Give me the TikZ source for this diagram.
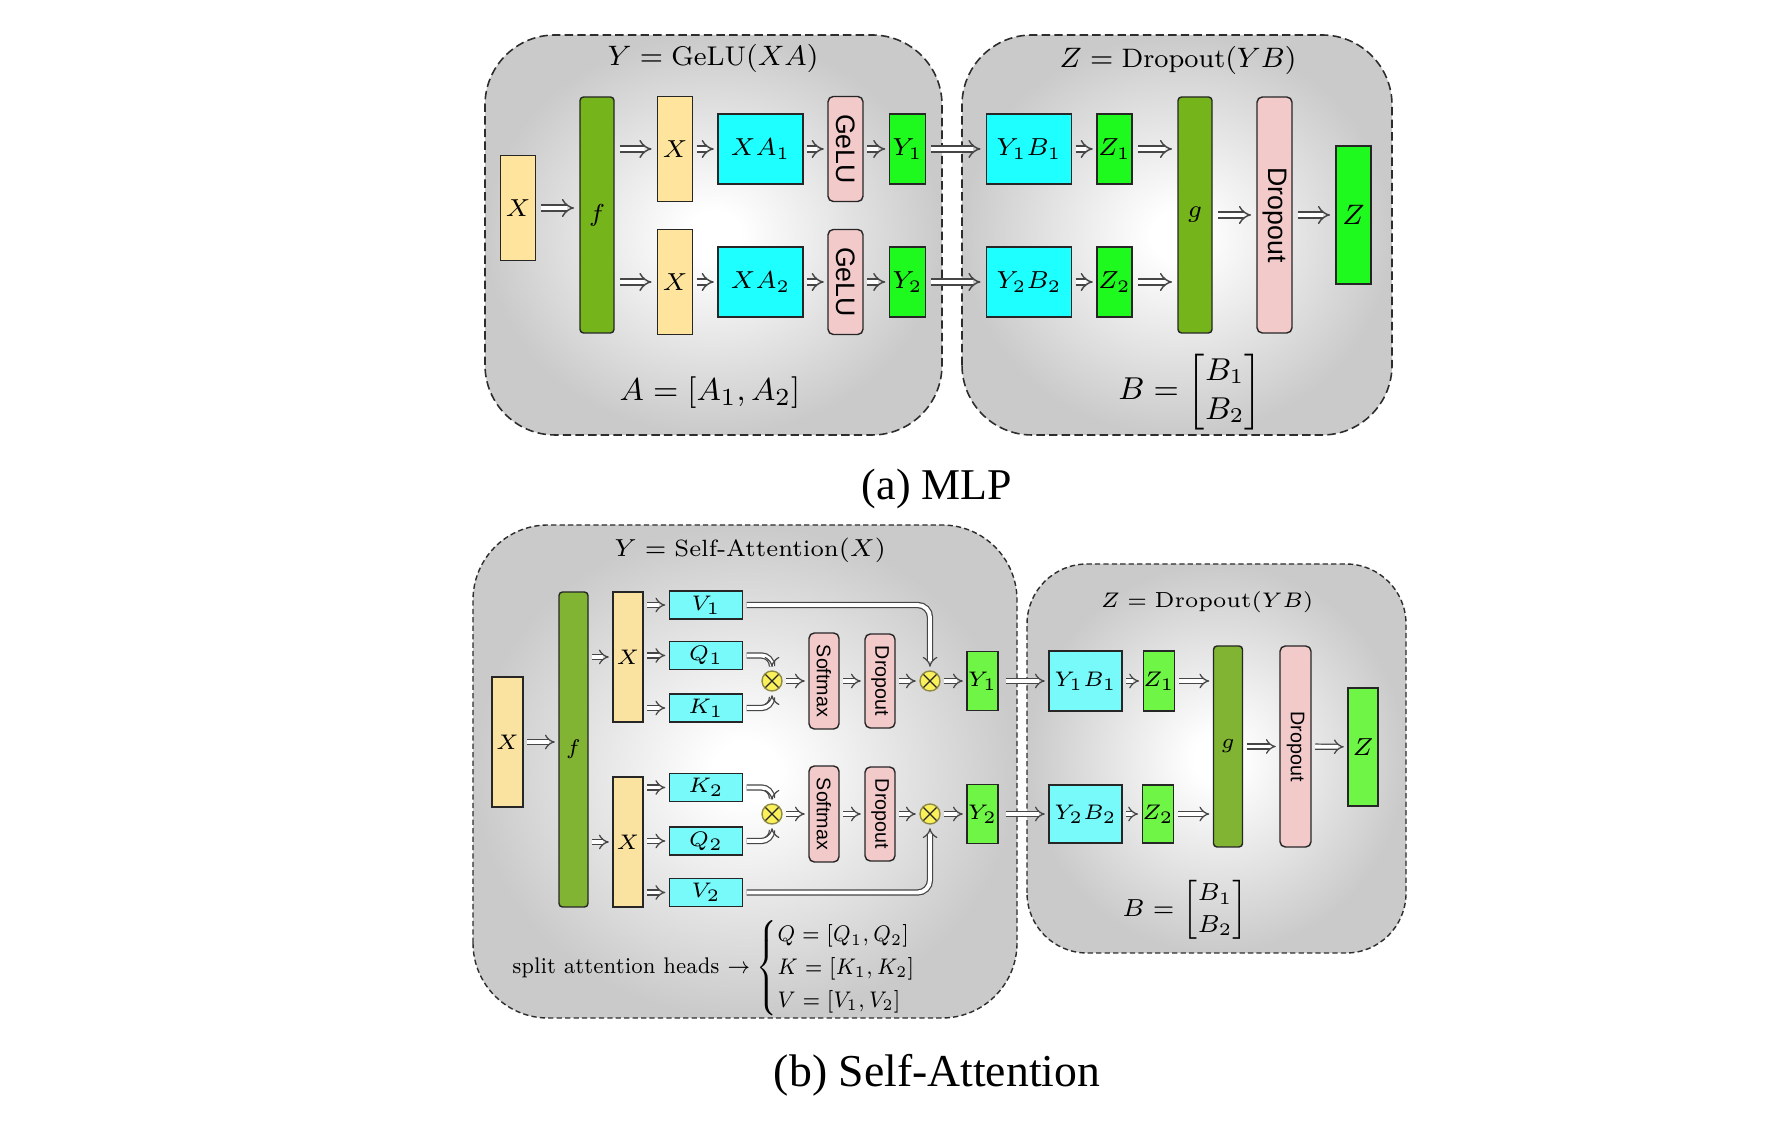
\documentclass[tikz,border=0pt]{standalone}
\usepackage{fontspec}
\usepackage{amsmath}
\usetikzlibrary{arrows.meta}
\newfontfamily\capfont{Liberation Serif}
\newfontfamily\boxsans{Liberation Sans}

\definecolor{xyel}{RGB}{255,228,158}
\definecolor{fgreen}{RGB}{118,180,28}
\definecolor{mcyan}{RGB}{30,255,255}
\definecolor{apink}{RGB}{242,202,202}
\definecolor{ygreen}{RGB}{30,250,30}
\definecolor{sxyel}{RGB}{250,226,160}
\definecolor{sfgreen}{RGB}{128,180,50}
\definecolor{scyan}{RGB}{120,250,250}
\definecolor{sygreen}{RGB}{110,245,70}
\definecolor{mulyel}{RGB}{250,240,90}
\definecolor{panelgray}{RGB}{202,202,202}

\pgfdeclareradialshading{panelshade}{\pgfpoint{0bp}{0bp}}{color(0bp)=(white); color(3bp)=(white); color(25bp)=(panelgray); color(50bp)=(panelgray)}

\tikzset{
    panel/.style={draw=gray!35!black, line width=0.45pt, dash pattern=on 2.4pt off 1.2pt,
        rounded corners=0.7cm, shading=panelshade},
    spanel/.style={panel, line width=0.4pt, dash pattern=on 1.5pt off 0.9pt},
    blk/.style={draw=gray!30!black, line width=0.4pt, inner sep=0pt},
    % MLP boxes
    xbox/.style={blk, fill=xyel, minimum width=0.35cm, minimum height=1.05cm},
    fbar/.style={blk, fill=fgreen, rounded corners=1pt, minimum width=0.34cm, minimum height=2.36cm},
    mulbox/.style={blk, fill=mcyan, minimum width=0.85cm, minimum height=0.70cm},
    actbox/.style={blk, fill=apink, rounded corners=1.5pt, rotate=-90, minimum width=1.05cm,
        minimum height=0.35cm, font=\boxsans\fontsize{7.6}{9}\selectfont},
    outbox/.style={blk, fill=ygreen, minimum width=0.36cm, minimum height=0.70cm},
    arr/.style={draw=gray!55!black, line width=0.4pt, double=white, double distance=1.4pt,
        -{Implies}, shorten <=1.5pt, shorten >=1.5pt},
    % self-attention boxes
    sxbox/.style={blk, fill=sxyel, minimum width=0.30cm, minimum height=1.30cm},
    sfbar/.style={blk, fill=sfgreen, rounded corners=1pt, minimum width=0.29cm, minimum height=3.15cm},
    qkv/.style={blk, fill=scyan, minimum width=0.73cm, minimum height=0.28cm},
    smul/.style={blk, fill=scyan, minimum width=0.73cm, minimum height=0.60cm},
    sact/.style={blk, fill=apink, rounded corners=1.5pt, rotate=-90, minimum width=0.96cm,
        minimum height=0.30cm, font=\boxsans\fontsize{5.6}{7}\selectfont},
    sout/.style={blk, fill=sygreen, minimum width=0.30cm, minimum height=0.59cm},
    otimes/.style={circle, draw=olive!50!gray, line width=0.4pt, fill=mulyel, minimum size=0.2cm,
        inner sep=0pt, path picture={\draw[gray!30!black, line width=0.35pt]
        (path picture bounding box.north east) -- (path picture bounding box.south west)
        (path picture bounding box.north west) -- (path picture bounding box.south east);}},
    sarr/.style={arr, line width=0.35pt, double distance=1.1pt, shorten <=1pt, shorten >=1pt},
}

\begin{document}
\begin{tikzpicture}[font=\fontsize{7.5}{9}\selectfont]
    \useasboundingbox (0,0) rectangle (17.70,11.26);

    % (a) MLP panels
    \shade[panel] (4.85,6.91) rectangle (9.42,10.91);
    \shade[panel] (9.62,6.91) rectangle (13.92,10.91);

    % Titles
    \node[font=\fontsize{7.7}{10}\selectfont] (ta) at (7.13,10.68) {$Y = \mathrm{GeLU}(XA)$};
    \node[font=\fontsize{7.6}{10}\selectfont] (tb) at (11.78,10.66) {$Z = \mathrm{Dropout}(YB)$};

    % First layer
    \node[xbox] (xin) at (5.18,9.18) {$X$};
    \node[fbar] (f) at (5.97,9.11) {$f$};
    \node[xbox] (xa) at (6.75,9.77) {$X$};
    \node[xbox] (xb) at (6.75,8.44) {$X$};
    \node[mulbox] (xa1) at (7.605,9.77) {$XA_1$};
    \node[mulbox] (xa2) at (7.605,8.44) {$XA_2$};
    \node[actbox] (gelu1) at (8.455,9.77) {GeLU};
    \node[actbox] (gelu2) at (8.455,8.44) {GeLU};
    \node[outbox] (y1) at (9.075,9.77) {$Y_1$};
    \node[outbox] (y2) at (9.075,8.44) {$Y_2$};

    % Second layer
    \node[mulbox] (yb1) at (10.29,9.77) {$Y_1B_1$};
    \node[mulbox] (yb2) at (10.29,8.44) {$Y_2B_2$};
    \node[outbox, minimum width=0.35cm] (z1) at (11.145,9.77) {$Z_1$};
    \node[outbox, minimum width=0.35cm] (z2) at (11.145,8.44) {$Z_2$};
    \node[fbar] (g) at (11.95,9.11) {$g$};
    \node[actbox, minimum width=2.36cm] (drop) at (12.745,9.11) {Dropout};
    \node[outbox, minimum width=0.35cm, minimum height=1.38cm, font=\fontsize{8.5}{10}\selectfont] (z) at (13.535,9.11) {$Z$};

    % Arrows
    \draw[arr] (xin) -- (xin -| f.west);
    \draw[arr] (f.east |- xa) -- (xa);
    \draw[arr] (f.east |- xb) -- (xb);
    \foreach \r in {1,2} {
        \draw[arr, shorten <=1pt, shorten >=1pt] (xa\r) -- (gelu\r);
        \draw[arr, shorten <=1pt, shorten >=1pt] (gelu\r) -- (y\r);
        \draw[arr, shorten <=1pt, shorten >=1pt] (yb\r) -- (z\r);
        \draw[arr] (y\r) -- (yb\r);
        \draw[arr] (z\r) -- (z\r -| g.west);
    }
    \draw[arr, shorten <=1pt, shorten >=1pt] (xa) -- (xa1);
    \draw[arr, shorten <=1pt, shorten >=1pt] (xb) -- (xa2);
    \draw[arr] (g) -- (drop);
    \draw[arr] (drop) -- (z);

    % Weights
    \node[font=\fontsize{9.5}{11}\selectfont] (wa) at (7.10,7.33) {$A = [A_1, A_2]$};
    \node[font=\fontsize{9}{11}\selectfont] (wb) at (11.90,7.34) {$B = \begin{bmatrix} B_1\\ B_2 \end{bmatrix}$};

    \node[font=\capfont\fontsize{12.5}{14}\selectfont] (capa) at (9.37,6.37) {(a) MLP};

    % (b) Self-attention panels
    \shade[spanel, rounded corners=0.75cm] (4.73,1.08) rectangle (10.17,6.01);
    \shade[spanel, rounded corners=0.6cm] (10.27,1.73) rectangle (14.06,5.62);

    \node[font=\fontsize{6.7}{9}\selectfont] (tc) at (7.50,5.76) {$Y = \text{Self-Attention}(X)$};
    \node[font=\fontsize{6.2}{9}\selectfont] (td) at (12.07,5.24) {$Z = \mathrm{Dropout}(YB)$};

    \begin{scope}[font=\fontsize{6}{7}\selectfont]
    % Heads
    \node[sxbox, minimum width=0.31cm] (sxin) at (5.075,3.84) {$X$};
    \node[sfbar] (sf) at (5.735,3.765) {$f$};
    \node[sxbox] (sxa) at (6.28,4.69) {$X$};
    \node[sxbox] (sxb) at (6.28,2.84) {$X$};
    \node[qkv] (v1) at (7.06,5.21) {$V_1$};
    \node[qkv] (q1) at (7.06,4.705) {$Q_1$};
    \node[qkv] (k1) at (7.06,4.18) {$K_1$};
    \node[qkv] (k2) at (7.06,3.385) {$K_2$};
    \node[qkv] (q2) at (7.06,2.85) {$Q_2$};
    \node[qkv] (v2) at (7.06,2.335) {$V_2$};

    \node[otimes] (m1) at (7.72,4.45) {};
    \node[otimes] (m2) at (7.72,3.12) {};
    \node[sact] (sm1) at (8.24,4.45) {Softmax};
    \node[sact] (sm2) at (8.24,3.12) {Softmax};
    \node[sact, minimum width=0.94cm] (dr1) at (8.80,4.45) {Dropout};
    \node[sact, minimum width=0.94cm] (dr2) at (8.80,3.12) {Dropout};
    \node[otimes] (m3) at (9.30,4.45) {};
    \node[otimes] (m4) at (9.30,3.12) {};
    \node[sout, minimum width=0.31cm] (ya1) at (9.825,4.45) {$Y_1$};
    \node[sout, minimum width=0.31cm] (ya2) at (9.825,3.12) {$Y_2$};

    % Output projection
    \node[smul] (byb1) at (10.855,4.45) {$Y_1B_1$};
    \node[sout, minimum height=0.60cm] (bz1) at (11.59,4.45) {$Z_1$};
    \node[smul, minimum height=0.58cm] (byb2) at (10.855,3.12) {$Y_2B_2$};
    \node[sout, minimum height=0.58cm] (bz2) at (11.58,3.12) {$Z_2$};
    \node[sfbar, minimum height=2.01cm] (bg) at (12.28,3.795) {$g$};
    \node[sact, minimum width=2.01cm, minimum height=0.31cm] (bdrop) at (12.955,3.795) {Dropout};
    \node[sout, minimum height=1.18cm, font=\fontsize{7}{8}\selectfont] (bz) at (13.63,3.79) {$Z$};
    \end{scope}

    % Arrows
    \draw[sarr] (sxin) -- (sxin -| sf.west);
    \draw[sarr] (sf.east |- sxa) -- (sxa);
    \draw[sarr] (sf.east |- sxb) -- (sxb);
    \foreach \n in {v1,q1,k1} \draw[sarr] (sxa.east |- \n) -- (\n);
    \foreach \n in {k2,q2,v2} \draw[sarr] (sxb.east |- \n) -- (\n);
    \draw[sarr, rounded corners=3pt] (q1) -| (m1);
    \draw[sarr, rounded corners=3pt] (k1) -| (m1);
    \draw[sarr, rounded corners=3pt] (k2) -| (m2);
    \draw[sarr, rounded corners=3pt] (q2) -| (m2);
    \draw[sarr, rounded corners=3.5pt] (v1) -| (m3);
    \draw[sarr, rounded corners=3.5pt] (v2) -| (m4);
    \draw[sarr] (m1) -- (sm1);
    \draw[sarr] (sm1) -- (dr1);
    \draw[sarr] (dr1) -- (m3);
    \draw[sarr] (m3) -- (ya1);
    \draw[sarr] (m2) -- (sm2);
    \draw[sarr] (sm2) -- (dr2);
    \draw[sarr] (dr2) -- (m4);
    \draw[sarr] (m4) -- (ya2);
    \draw[sarr, shorten <=2pt] (ya1) -- (byb1);
    \draw[sarr, shorten <=2pt] (ya2) -- (byb2);
    \draw[sarr] (byb1) -- (bz1);
    \draw[sarr] (byb2) -- (bz2);
    \draw[sarr] (bz1) -- (bz1 -| bg.west);
    \draw[sarr] (bz2) -- (bz2 -| bg.west);
    \draw[sarr] (bg) -- (bdrop);
    \draw[sarr] (bdrop) -- (bz);

    % Split heads and weights
    \node[font=\fontsize{7}{8.4}\selectfont] (split) at (7.25,1.58)
        {\scalebox{0.82}[0.92]{split attention heads $\rightarrow \begin{cases} Q = [Q_1, Q_2]\\ K = [K_1, K_2]\\ V = [V_1, V_2] \end{cases}$}};
    \node[font=\fontsize{7}{9}\selectfont] (wc) at (11.85,2.16) {$B = \begin{bmatrix} B_1\\ B_2 \end{bmatrix}$};

    \node[font=\capfont\fontsize{13}{15}\selectfont] (capb) at (9.37,0.51) {(b) Self-Attention};
\end{tikzpicture}
\end{document}
